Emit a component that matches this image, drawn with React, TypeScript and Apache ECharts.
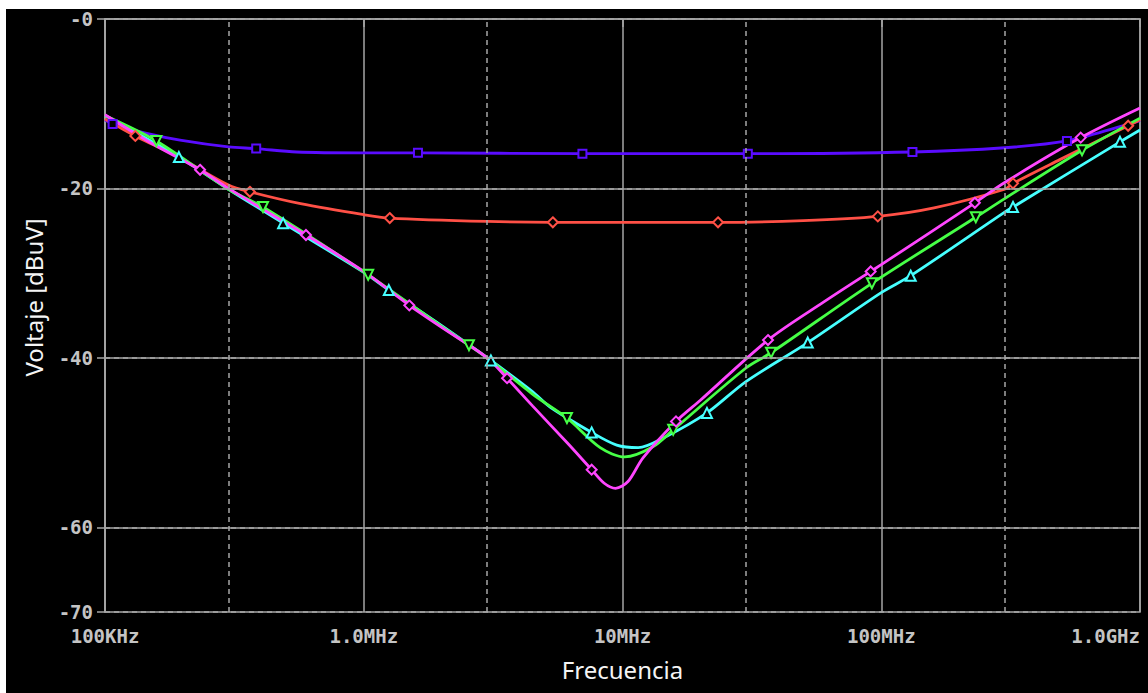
import React, { useEffect, useRef } from "react";
import * as echarts from "echarts";

// ---- axis ticks ----
const xTickValues = [1e5, 1e6, 1e7, 1e8, 1e9];
const xTickLabels = ["100KHz", "1.0MHz", "10MHz", "100MHz", "1.0GHz"];
const xMinorGrid = [3e5, 3e6, 3e7, 3e8];
const yLabelValues = [0, -20, -40, -60, -70];
const yLabelTexts = ["-0", "-20", "-40", "-60", "-70"];
const ySolidGrid = [-20, -40, -60];

// ---- series data (frequency in Hz, level in dBuV) ----
const blueF = [1e5, 1.07e5, 1.45e5, 1.95e5, 3e5, 3.84e5, 5.5e5, 1e6, 1.62e6, 7.0e6, 3.05e7, 1.32e8, 3e8, 5.22e8, 8.37e8, 1e9];
const blueV = [-11.9, -12.4, -13.5, -14.3, -15.1, -15.3, -15.7, -15.8, -15.8, -15.9, -15.9, -15.7, -15.2, -14.4, -12.7, -12.0];
const blueMarks = [1, 5, 8, 9, 10, 11, 13];

const redF = [1e5, 1.31e5, 1.95e5, 3e5, 3.63e5, 5.7e5, 1e6, 1.26e6, 3e6, 5.38e6, 2.34e7, 5e7, 9.7e7, 1.6e8, 3e8, 3.23e8, 4.9e8, 9e8, 1e9];
const redV = [-11.8, -13.8, -16.4, -19.6, -20.4, -21.8, -23.1, -23.5, -23.9, -24.0, -24.0, -23.8, -23.3, -22.3, -20.1, -19.4, -16.6, -12.6, -11.9];
const redMarks = [1, 4, 7, 9, 10, 12, 15, 17];

const cyanF = [1e5, 1.93e5, 3e5, 4.88e5, 1e6, 1.25e6, 2e6, 3.1e6, 4.5e6, 5.25e6, 7.6e6, 9.5e6, 1.15e7, 1.45e7, 2.12e7, 3e7, 5.2e7, 1e8, 1.3e8, 3e8, 3.23e8, 8.37e8, 1e9];
const cyanV = [-11.4, -16.3, -20.1, -24.1, -29.9, -32.0, -36.2, -40.3, -44.0, -45.8, -48.8, -50.3, -50.6, -49.4, -46.5, -42.8, -38.2, -32.3, -30.3, -22.8, -22.2, -14.5, -13.1];
const cyanMarks = [1, 3, 5, 7, 10, 14, 16, 18, 20, 21];

const greenF = [1e5, 1.58e5, 3e5, 4.08e5, 1.04e6, 2e6, 2.55e6, 3e6, 4.5e6, 6.1e6, 8.2e6, 1.02e7, 1.31e7, 1.57e7, 3e7, 3.75e7, 9.2e7, 2.32e8, 3e8, 5.97e8, 1e9];
const greenV = [-11.4, -14.4, -20.1, -22.2, -30.2, -36.3, -38.5, -40.0, -44.3, -47.1, -50.6, -51.7, -50.5, -48.5, -41.2, -39.4, -31.2, -23.4, -21.2, -15.5, -11.7];
const greenMarks = [1, 3, 4, 6, 9, 13, 15, 16, 17, 19];

const magentaF = [1e5, 1.5e5, 2.33e5, 3e5, 5.98e5, 1e6, 1.5e6, 2e6, 3e6, 3.58e6, 4.5e6, 6.1e6, 7.6e6, 8.5e6, 9.4e6, 1.05e7, 1.2e7, 1.61e7, 2e7, 3.65e7, 6e7, 9.1e7, 1e8, 2.3e8, 3e8, 5.9e8, 1e9];
const magentaV = [-11.3, -14.6, -17.8, -20.0, -25.5, -29.8, -33.8, -36.4, -40.0, -42.4, -45.7, -50.0, -53.2, -54.8, -55.4, -54.6, -51.8, -47.5, -45.0, -37.9, -33.4, -29.8, -29.0, -21.7, -19.3, -14.0, -10.5];
const magentaMarks = [2, 4, 6, 9, 12, 17, 19, 21, 23, 25];

const GRID = "#a6a6a6";
const LABEL = "#c4c4c4";

function buildData(F: number[], V: number[], marks: number[], color: string, symbol: string, rotate: number) {
  return F.map((f, i) =>
    marks.includes(i)
      ? {
          value: [f, V[i]],
          symbol,
          symbolSize: symbol === "rect" ? 8 : 10,
          symbolRotate: rotate,
          itemStyle: { color: "#000", borderColor: color, borderWidth: 2 },
        }
      : { value: [f, V[i]] }
  );
}

function lineSeries(name: string, F: number[], V: number[], marks: number[], color: string, symbol: string, rotate: number) {
  return {
    name,
    type: "line",
    data: buildData(F, V, marks, color, symbol, rotate),
    symbol: "none",
    showSymbol: true,
    smooth: 0.3,
    lineStyle: { color, width: 2.8 },
    itemStyle: { color },
    emphasis: { disabled: true },
    silent: true,
  };
}

export default function App() {
  const ref = useRef<HTMLDivElement>(null);
  useEffect(() => {
    if (!ref.current) return;
    const chart = echarts.init(ref.current, null, { renderer: "svg" });
    const dashed = { color: GRID, width: 1.5, type: [5, 4] as any };
    chart.setOption({
      animation: false,
      backgroundColor: "#000",
      grid: { left: 99, top: 10, right: 8, bottom: 81, show: true, borderColor: GRID, borderWidth: 1.5, backgroundColor: "transparent" },
      xAxis: {
        type: "log",
        logBase: 10,
        min: 1e5,
        max: 1e9,
        name: "Frecuencia",
        nameLocation: "middle",
        nameGap: 45,
        nameTextStyle: { color: "#f4f4f4", fontFamily: "Noto Sans", fontSize: 24 },
        axisLine: { show: true, lineStyle: { color: GRID, width: 1.5 } },
        axisTick: { show: true, length: 8, lineStyle: { color: GRID, width: 1.5 } },
        axisLabel: {
          color: LABEL,
          fontFamily: "DejaVu Sans Mono",
          fontWeight: "bold",
          fontSize: 19,
          margin: 14,
          alignMaxLabel: "right",
          formatter: (v: number) => {
            const k = xTickValues.findIndex((t) => Math.abs(Math.log10(t) - Math.log10(v)) < 0.01);
            return k >= 0 ? xTickLabels[k] : "";
          },
        },
        splitLine: { show: true, lineStyle: { color: GRID, width: 1.5 } },
      },
      yAxis: {
        type: "value",
        min: -70,
        max: 0,
        interval: 5,
        name: "Voltaje [dBuV]",
        nameLocation: "middle",
        nameGap: 60,
        nameTextStyle: { color: "#f4f4f4", fontFamily: "Noto Sans", fontSize: 24, padding: [0, 0, 0, 36] },
        axisLine: { show: true, lineStyle: { color: GRID, width: 1.5 } },
        axisTick: { show: true, length: 8, customValues: yLabelValues, lineStyle: { color: GRID, width: 1.5 } },
        axisLabel: {
          color: LABEL,
          fontFamily: "DejaVu Sans Mono",
          fontWeight: "bold",
          fontSize: 19,
          margin: 12,
          customValues: yLabelValues,
          formatter: (v: number) => {
            const k = yLabelValues.indexOf(Math.round(v));
            return k >= 0 ? yLabelTexts[k] : "";
          },
        },
        splitLine: { show: true, lineStyle: dashed },
      },
      series: [
        {
          type: "line",
          data: [],
          silent: true,
          markLine: {
            silent: true,
            symbol: ["none", "none"],
            label: { show: false },
            emphasis: { disabled: true },
            data: [
              ...xMinorGrid.map((v) => ({ xAxis: v, lineStyle: dashed })),
              ...ySolidGrid.map((v) => ({ yAxis: v, lineStyle: { color: GRID, width: 1.5, type: "solid" } })),
            ],
          },
        },
        lineSeries("blue", blueF, blueV, blueMarks, "#5a0cff", "rect", 0),
        lineSeries("red", redF, redV, redMarks, "#ff5046", "diamond", 0),
        lineSeries("cyan", cyanF, cyanV, cyanMarks, "#46ffff", "triangle", 0),
        lineSeries("green", greenF, greenV, greenMarks, "#46ff46", "triangle", 180),
        lineSeries("magenta", magentaF, magentaV, magentaMarks, "#ff46ff", "diamond", 0),
      ],
    });
    return () => chart.dispose();
  }, []);
  return (
    <div style={{ position: "fixed", left: 0, top: 0, width: 1148, height: 693, background: "#fff" }}>
      <div ref={ref} style={{ position: "absolute", left: 6, top: 9, width: 1142, height: 684, background: "#000" }} />
    </div>
  );
}
